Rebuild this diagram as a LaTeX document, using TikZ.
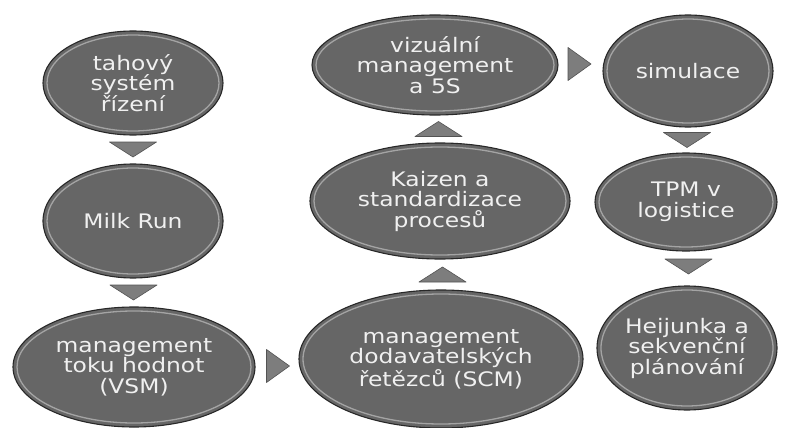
\documentclass[tikz,border=0pt]{standalone}
\usepackage{fontspec}
\newfontfamily\vfont[FakeStretch=1.17]{DejaVu Sans}
\usetikzlibrary{calc,shapes.geometric}
\definecolor{elfill}{RGB}{102,102,102}
\definecolor{elborder}{RGB}{40,40,40}
\definecolor{elrim}{RGB}{185,185,185}
\definecolor{eltext}{RGB}{240,240,240}
\definecolor{trfill}{RGB}{125,125,125}
\tikzset{
  el/.style={ellipse, fill=elfill, draw=elborder, line width=1.1pt, inner sep=0pt,
    align=center, text=eltext, font=\vfont\fontsize{20}{20.5}\selectfont},
  rim/.style={draw=elrim, line width=1.3pt, opacity=0.75},
  tri/.style={fill=trfill, draw=elborder!80, line width=0.6pt, line join=round},
}
% \elnode{name}{x}{y}{rx}{ry}{text}
\newcommand{\elnode}[6]{%
  \node[el, minimum width=#4*2pt, minimum height=#5*2pt] (#1) at (#2,#3) {#6};
  \draw[rim] (#1.center) ellipse [x radius=#4pt-4pt, y radius=#5pt-4pt];
}
% triangles: down, up, right centred at a coordinate
\newcommand{\tridown}[1]{\path[tri] ($(#1)+(-23.5,-7.5)$) -- ($(#1)+(23.5,-7.5)$) -- ($(#1)+(0,7.5)$) -- cycle;}
\newcommand{\triup}[1]{\path[tri,draw] ($(#1)+(-23.5,7.5)$) -- ($(#1)+(23.5,7.5)$) -- ($(#1)+(0,-7.5)$) -- cycle;}
\newcommand{\triright}[1]{\path[tri,draw] ($(#1)+(-11.5,-16.5)$) -- ($(#1)+(-11.5,16.5)$) -- ($(#1)+(11.5,0)$) -- cycle;}
\begin{document}
\begin{tikzpicture}[x=1pt,y=-1pt]
\path[fill=white] (0,0) rectangle (785,428);
\useasboundingbox (0,0) rectangle (785,428);

\elnode{tah}{133}{83}{90}{52}{tahový\\systém\\řízení}
\elnode{milk}{133}{221}{90}{57}{Milk Run}
\elnode{vsm}{134}{367}{121}{60}{management\\toku hodnot\\(VSM)}
\elnode{scm}{441}{359}{142}{69}{management\\dodavatelských\\řetězců (SCM)}
\elnode{kai}{440}{201}{130}{58}{Kaizen a\\standardizace\\procesů}
\elnode{viz}{435}{65}{123}{50}{vizuální\\management\\a 5S}
\elnode{sim}{688}{71}{85}{56}{simulace}
\elnode{tpm}{686}{202}{91}{49}{TPM v\\logistice}
\elnode{hei}{687}{348}{90}{62}{Heijunka a\\sekvenční\\plánování}

\coordinate (t1) at ($(tah.south)!0.5!(milk.north)$);
\coordinate (t2) at ($(milk.south)!0.5!(vsm.north)$);
\coordinate (t3) at ($(vsm.east)!0.5!(scm.west)+(1,3)$);
\coordinate (t4) at ($(scm.north)!0.5!(kai.south)+(2,0)$);
\coordinate (t5) at ($(kai.north)!0.5!(viz.south)+(1,0)$);
\coordinate (t6) at ($(viz.east)!0.5!(sim.west)+(-1,-4)$);
\coordinate (t7) at ($(sim.south)!0.5!(tpm.north)$);
\coordinate (t8) at ($(tpm.south)!0.5!(hei.north)+(2,-2)$);

\path[tri,draw] ($(t1)+(-23.5,-7.5)$) -- ($(t1)+(23.5,-7.5)$) -- ($(t1)+(0,7.5)$) -- cycle;
\path[tri,draw] ($(t2)+(-23.5,-7.5)$) -- ($(t2)+(23.5,-7.5)$) -- ($(t2)+(0,7.5)$) -- cycle;
\triright{t3}
\triup{t4}
\triup{t5}
\triright{t6}
\path[tri,draw] ($(t7)+(-23.5,-7.5)$) -- ($(t7)+(23.5,-7.5)$) -- ($(t7)+(0,7.5)$) -- cycle;
\path[tri,draw] ($(t8)+(-23.5,-7.5)$) -- ($(t8)+(23.5,-7.5)$) -- ($(t8)+(0,7.5)$) -- cycle;
\end{tikzpicture}
\end{document}
